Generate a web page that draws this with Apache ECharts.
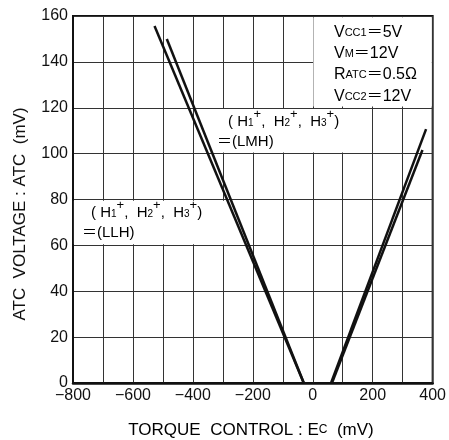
<!DOCTYPE html>
<html>
<head>
<meta charset="utf-8">
<script src="https://cdn.jsdelivr.net/npm/echarts@6/dist/echarts.min.js"></script>
<style>html,body{margin:0;padding:0;background:#fff;}#c{width:449px;height:440px;}</style>
</head>
<body>
<div id="c"></div>
<script>
// Data (x: torque control Ec in mV, y: ATC voltage in mV)
const lineA = [[-528, 155.6], [-30, 0]];
const lineB = [[-487, 150], [-30, 0]];
const lineC = [[61, 0], [378, 110.7]];
const lineD = [[64, 0], [366, 101.6]];
const xTicks = [-800, -600, -400, -200, 0, 200, 400];
const yTicks = [0, 20, 40, 60, 80, 100, 120, 140, 160];
// white label areas [x1, y1, x2, y2]
const boxes = [[2, 120.5, 397, 159.5], [-380, 100.5, 197, 119.5], [-797, 60.5, -250, 79.5]];

const FONT = '"Liberation Sans", Arial, "Noto Sans CJK SC", sans-serif';
const chart = echarts.init(document.getElementById('c'));
const lineStyle = {color: '#111', width: 2.5};
function mk(name, d) {
  return {type: 'line', name: name, data: d, showSymbol: false, symbol: 'none', lineStyle: lineStyle, z: 5, animation: false, silent: true};
}
const sub = {fontSize: 10, fontFamily: FONT, color: '#111', verticalAlign: 'middle', lineHeight: 12, padding: [3, 0, 0, 0]};
const sup = {fontSize: 13, fontFamily: FONT, color: '#111', verticalAlign: 'top', lineHeight: 11};
const big = {fontSize: 15, fontFamily: FONT, color: '#111', verticalAlign: 'middle', lineHeight: 28};
const hText = '{b|( H}{s|1}{p|+}{b|,  H}{s|2}{p|+}{b|,  H}{s|3}{p|+}{b|)}';
const richH = {b: big, s: sub, p: sup};
const richE = {b: {fontSize: 15, fontFamily: FONT, color: '#111', lineHeight: 18}};
const annBig = {fontSize: 16, fontFamily: FONT, color: '#111'};
const annSm = {fontSize: 11, fontFamily: FONT, color: '#111'};
function ann(y, t) {
  return {type: 'text', x: 334, y: y, z: 20, style: {text: t, textVerticalAlign: 'middle', rich: {b: annBig, s: annSm}}};
}
chart.setOption({
  animation: false,
  grid: {left: 73, right: 10, top: 16, bottom: 57, show: true, borderColor: '#111', borderWidth: 2, backgroundColor: 'transparent'},
  xAxis: {
    type: 'value', min: -800, max: 400, interval: 100,
    axisLine: {show: true, onZero: false, lineStyle: {color: '#111', width: 2.5}},
    axisTick: {show: false},
    splitLine: {show: true, lineStyle: {color: '#333', width: 1}},
    axisLabel: {
      fontSize: 16, fontFamily: FONT, color: '#111', margin: 5,
      formatter: function (v) { return xTicks.indexOf(v) >= 0 ? String(v).replace('-', '−') : ''; }
    }
  },
  yAxis: {
    type: 'value', min: 0, max: 160, interval: 20,
    axisLine: {show: true, onZero: false, lineStyle: {color: '#111', width: 2}},
    axisTick: {show: false},
    splitLine: {show: true, lineStyle: {color: '#333', width: 1}},
    axisLabel: {
      fontSize: 16, fontFamily: FONT, color: '#111', margin: 5,
      formatter: function (v) { return yTicks.indexOf(v) >= 0 ? String(v) : ''; }
    }
  },
  series: [
    {type: 'line', data: [], z: 3, silent: true,
      markArea: {silent: true, itemStyle: {color: '#fff', opacity: 1},
        data: boxes.map(b => [{coord: [b[0], b[1]]}, {coord: [b[2], b[3]]}])}},
    mk('A', lineA), mk('B', lineB), mk('C', lineC), mk('D', lineD)
  ],
  graphic: [
    ann(33, '{b|V}{s|CC1}{b|＝5V}'),
    ann(54, '{b|V}{s|M}{b|＝12V}'),
    ann(75, '{b|R}{s|ATC}{b|＝0.5Ω}'),
    ann(97, '{b|V}{s|CC2}{b|＝12V}'),
    {type: 'text', x: 228, y: 122, z: 20, style: {text: hText, textVerticalAlign: 'middle', rich: richH}},
    {type: 'text', x: 217, y: 142, z: 20, style: {text: '{b|＝(LMH)}', textVerticalAlign: 'middle', rich: richE}},
    {type: 'text', x: 91, y: 213, z: 20, style: {text: hText, textVerticalAlign: 'middle', rich: richH}},
    {type: 'text', x: 82, y: 233, z: 20, style: {text: '{b|＝(LLH)}', textVerticalAlign: 'middle', rich: richE}},
    {type: 'text', x: 251, y: 430, z: 20, style: {text: '{b|TORQUE  CONTROL : E}{s|C}{b|  (mV)}', textAlign: 'center', textVerticalAlign: 'middle',
      rich: {b: {fontSize: 17, fontFamily: FONT, color: '#111'}, s: {fontSize: 12, fontFamily: FONT, color: '#111'}}}},
    {type: 'text', x: 20, y: 214, rotation: Math.PI / 2, z: 20, style: {text: 'ATC  VOLTAGE : ATC  (mV)', x: 0, y: 0, textAlign: 'center', textVerticalAlign: 'middle', font: '17px ' + FONT, fill: '#111'}}
  ]
});
</script>
</body>
</html>
